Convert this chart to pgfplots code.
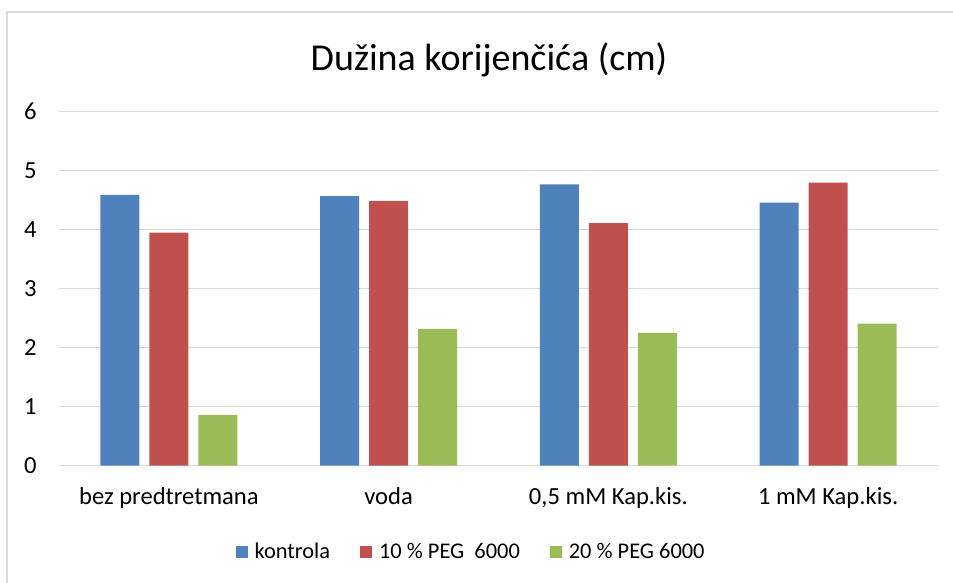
\documentclass[border=0pt]{standalone}
\usepackage{fontspec}
\setmainfont{Carlito}
\usepackage{pgfplots}
\pgfplotsset{compat=1.18}

\definecolor{cblue}{HTML}{4F81BD}
\definecolor{cred}{HTML}{C0504D}
\definecolor{cgreen}{HTML}{9BBB59}
\definecolor{cgrid}{HTML}{D9D9D9}

\begin{document}
\begin{tikzpicture}
% canvas: 953 x 583 px at 0.5pt per px, origin top-left
\useasboundingbox (0,0) rectangle (476.5pt,-291.5pt);
\draw[cgrid, line width=0.6pt] (3.5pt,-291.5pt) -- (3.5pt,-6pt) -- (476.5pt,-6pt);

\node[font=\fontsize{19}{23}\selectfont, anchor=center] at (244.5pt,-30pt) {Dužina korijenčića (cm)};

\begin{axis}[
  at={(29.5pt,-232.85pt)}, anchor=south west,
  scale only axis,
  width=439.5pt, height=177pt,
  ybar=5pt, bar width=19.5pt,
  xmin=-0.5, xmax=3.5,
  ymin=0, ymax=6,
  ytick={0,1,...,6},
  xtick=data,
  xticklabels={bez predtretmana, voda, {0,5 mM Kap.kis.}, 1 mM Kap.kis.},
  /pgf/number format/assume math mode=true,
  ymajorgrids,
  grid style={cgrid, line width=0.75pt},
  axis line style={draw=none},
  major tick length=0pt,
  tick label style={font=\fontsize{12.3}{15}\selectfont, text=black},
  yticklabel style={inner sep=0pt, anchor=east, xshift=-11pt},
  xticklabel style={inner sep=0pt, anchor=base, yshift=-19.6pt},
  legend columns=-1,
  legend style={draw=none, at={(0.47,-0.244)}, anchor=center,
    font=\fontsize{11.2}{13}\selectfont,
    /tikz/every odd column/.append style={column sep=1.5pt},
    /tikz/every even column/.append style={column sep=13pt}},
  legend image code/.code={\fill[#1] (0pt,-3pt) rectangle (6pt,3pt);},
  every axis plot/.append style={draw=none},
]
\addplot[fill=cblue] coordinates {(0,4.59) (1,4.57) (2,4.77) (3,4.46)};
\addplot[fill=cred] coordinates {(0,3.95) (1,4.49) (2,4.11) (3,4.80)};
\addplot[fill=cgreen] coordinates {(0,0.86) (1,2.32) (2,2.25) (3,2.41)};
\legend{kontrola, 10 \% PEG\ \ 6000, 20 \% PEG 6000}
\end{axis}
\end{tikzpicture}
\end{document}
